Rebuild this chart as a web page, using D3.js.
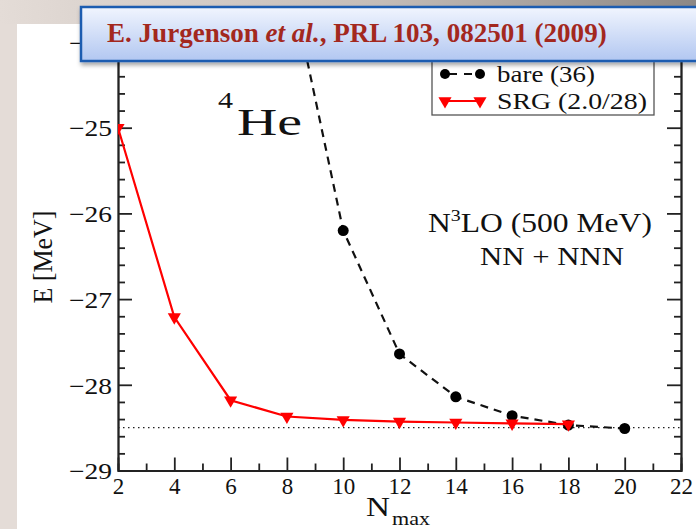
<!DOCTYPE html>
<meta charset="utf-8">
<style>
  body { margin: 0; background: #fff; }
  svg { display: block; font-family: "Liberation Serif", "DejaVu Serif", serif; }
  .axis path, .axis line { stroke: #222; stroke-width: 1.8px; }
</style>
<svg width="696" height="529"></svg>
<script src="https://d3js.org/d3.v7.min.js"></script>
<script>

// N_max values and ground state energies (MeV)
var bareN = [8, 10, 12, 14, 16, 18, 20],
    bareE = [-23.1, -26.20, -27.64, -28.14, -28.36, -28.47, -28.51];
var srgN = [2, 4, 6, 8, 10, 12, 14, 16, 18],
    srgE = [-25.0, -27.21, -28.18, -28.37, -28.41, -28.43, -28.44, -28.45, -28.46];
var exactE = -28.5;

var xTicks = [2, 4, 6, 8, 10, 12, 14, 16, 18, 20, 22],
    xLabels = ["2", "4", "6", "8", "10", "12", "14", "16", "18", "20", "22"];
var yTicks = [-29, -28, -27, -26, -25, -24],
    yLabels = ["\u221229", "\u221228", "\u221227", "\u221226", "\u221225", "\u221224"];

var serif = "'Liberation Serif', 'DejaVu Serif', serif";
var svg = d3.select("svg");

var defs = svg.append("defs");
var tg = defs.append("linearGradient").attr("id", "topg");
tg.append("stop").attr("offset", "0%").attr("stop-color", "#e4dcd7");
tg.append("stop").attr("offset", "55%").attr("stop-color", "#c4bcb7");
tg.append("stop").attr("offset", "100%").attr("stop-color", "#8d8885");
var bg = defs.append("linearGradient").attr("id", "bang")
    .attr("x1", 0).attr("y1", 0).attr("x2", 0).attr("y2", 1);
bg.append("stop").attr("offset", "0%").attr("stop-color", "#f1f5fe");
bg.append("stop").attr("offset", "100%").attr("stop-color", "#b2c7f1");
var sh = defs.append("filter").attr("id", "shadow")
    .attr("x", "-5%").attr("y", "-20%").attr("width", "110%").attr("height", "160%");
sh.append("feDropShadow").attr("dx", 1).attr("dy", 3).attr("stdDeviation", 2)
    .attr("flood-color", "#000").attr("flood-opacity", 0.35);

// slide background
svg.append("rect").attr("width", 696).attr("height", 529).attr("fill", "#fff");
svg.append("rect").attr("width", 17).attr("height", 529).attr("fill", "#e4dcd7");
svg.append("rect").attr("width", 696).attr("height", 24).attr("fill", "url(#topg)");

var x = d3.scaleLinear().domain([2, 22]).range([118, 681]);
var y = d3.scaleLinear().domain([-29, -24]).range([470.5, 42]);

defs.append("clipPath").attr("id", "clip").append("rect")
    .attr("x", 118).attr("y", 42).attr("width", 563).attr("height", 428.5);

function fit(t, w) {
    var n = t.node().getComputedTextLength();
    return w / n;
}

// minor ticks
var xMinor = d3.range(3, 22, 2),
    yMinor = d3.range(-29, -24.01, 0.2).filter(function (d) { return Math.abs(d - Math.round(d)) > 0.01; });

svg.append("g").attr("class", "axis").attr("transform", "translate(0," + y(-29) + ")")
    .call(d3.axisBottom(x).tickValues(xMinor).tickSize(-7).tickFormat(""));
svg.append("g").attr("class", "axis").attr("transform", "translate(0," + y(-24) + ")")
    .call(d3.axisTop(x).tickValues(xMinor).tickSize(-7).tickFormat(""));
svg.append("g").attr("class", "axis").attr("transform", "translate(" + x(2) + ",0)")
    .call(d3.axisLeft(y).tickValues(yMinor).tickSize(-7).tickFormat(""));
svg.append("g").attr("class", "axis").attr("transform", "translate(" + x(22) + ",0)")
    .call(d3.axisRight(y).tickValues(yMinor).tickSize(-7).tickFormat(""));

// major ticks
var xAxis = svg.append("g").attr("class", "axis").attr("transform", "translate(0," + y(-29) + ")")
    .call(d3.axisBottom(x).tickValues(xTicks).tickSize(-13).tickSizeOuter(0).tickPadding(7)
        .tickFormat(function (d, i) { return xLabels[i]; }));
xAxis.attr("font-family", serif).selectAll("text")
    .style("font-family", serif).style("font-size", "23px").attr("fill", "#111");
svg.append("g").attr("class", "axis").attr("transform", "translate(0," + y(-24) + ")")
    .call(d3.axisTop(x).tickValues(xTicks).tickSize(-13).tickSizeOuter(0).tickFormat(""));
var yAxis = svg.append("g").attr("class", "axis").attr("transform", "translate(" + x(2) + ",0)")
    .call(d3.axisLeft(y).tickValues(yTicks).tickSize(-14).tickSizeOuter(0).tickPadding(6)
        .tickFormat(function (d, i) { return yLabels[i]; }));
yAxis.attr("font-family", serif).selectAll("text")
    .style("font-family", serif).style("font-size", "23px").attr("fill", "#111").attr("dy", "0.36em")
    .attr("textLength", 43).attr("lengthAdjust", "spacingAndGlyphs");
svg.append("g").attr("class", "axis").attr("transform", "translate(" + x(22) + ",0)")
    .call(d3.axisRight(y).tickValues(yTicks).tickSize(-14).tickSizeOuter(0).tickFormat(""));

// exact result
svg.append("line")
    .attr("x1", x(2)).attr("x2", x(22)).attr("y1", y(exactE)).attr("y2", y(exactE))
    .attr("stroke", "#222").attr("stroke-width", 1.3).attr("stroke-dasharray", "1.5,3.5");

var plot = svg.append("g").attr("clip-path", "url(#clip)");

var bare = bareN.map(function (d, i) { return [d, bareE[i]]; }),
    srg = srgN.map(function (d, i) { return [d, srgE[i]]; });

var line = d3.line().x(function (d) { return x(d[0]); }).y(function (d) { return y(d[1]); });

plot.append("path").datum(bare).attr("d", line)
    .attr("fill", "none").attr("stroke", "#111").attr("stroke-width", 2.2)
    .attr("stroke-dasharray", "8,6");
plot.selectAll(".dot").data(bare).enter().append("circle")
    .attr("cx", function (d) { return x(d[0]); }).attr("cy", function (d) { return y(d[1]); })
    .attr("r", 5.5).attr("fill", "#000");

plot.append("path").datum(srg).attr("d", line)
    .attr("fill", "none").attr("stroke", "#ff0000").attr("stroke-width", 2.2);
var tri = d3.symbol().type(d3.symbolTriangle).size(75);
plot.selectAll(".tri").data(srg).enter().append("path")
    .attr("d", tri)
    .attr("transform", function (d) { return "translate(" + x(d[0]) + "," + y(d[1]) + ") rotate(180)"; })
    .attr("fill", "#ff0000");

// axis titles
var yt = svg.append("text").text("E [MeV]").style("font-size", "28px").attr("fill", "#111")
    .attr("text-anchor", "middle");
yt.attr("transform", "translate(52,257) rotate(-90) scale(" + fit(yt, 93) + ",1)");

var xn = svg.append("text").text("N").style("font-size", "28px").attr("fill", "#111");
xn.attr("transform", "translate(366,516) scale(" + fit(xn, 24) + ",1)");
var xm = svg.append("text").text("max").style("font-size", "19px").attr("fill", "#111");
xm.attr("transform", "translate(392,525) scale(" + fit(xm, 38) + ",1)");

// annotations
var a4 = svg.append("text").text("4").style("font-size", "24px").attr("fill", "#111");
a4.attr("transform", "translate(218,108) scale(" + fit(a4, 15) + ",1)");
var he = svg.append("text").text("He").style("font-size", "38px").attr("fill", "#111");
he.attr("transform", "translate(237,135) scale(" + fit(he, 65) + ",1)");

var n3 = svg.append("text").style("font-size", "27px").attr("fill", "#111");
n3.append("tspan").text("N");
n3.append("tspan").text("3").style("font-size", "17px").attr("dy", -11);
n3.append("tspan").text("LO (500 MeV)").attr("dy", 11);
n3.attr("transform", "translate(428,232) scale(" + fit(n3, 224) + ",1)");

var nn = svg.append("text").text("NN + NNN").style("font-size", "26px").attr("fill", "#111");
nn.attr("transform", "translate(480,265) scale(" + fit(nn, 144) + ",1)");

// legend
var lg = svg.append("g");
lg.append("rect").attr("x", 432).attr("y", 48).attr("width", 222).attr("height", 67)
    .attr("fill", "#fff").attr("stroke", "#555").attr("stroke-width", 1.3);
lg.append("line").attr("x1", 445).attr("x2", 480).attr("y1", 74).attr("y2", 74)
    .attr("stroke", "#111").attr("stroke-width", 2).attr("stroke-dasharray", "8,7").attr("stroke-dashoffset", -4);
[445, 480].forEach(function (cx) {
    lg.append("circle").attr("cx", cx).attr("cy", 74).attr("r", 5).attr("fill", "#000");
    lg.append("path").attr("d", tri).attr("transform", "translate(" + cx + ",101) rotate(180)").attr("fill", "#ff0000");
});
lg.append("line").attr("x1", 445).attr("x2", 480).attr("y1", 101).attr("y2", 101)
    .attr("stroke", "#ff0000").attr("stroke-width", 2);
var l1 = lg.append("text").text("bare (36)").style("font-size", "23px").attr("fill", "#111");
l1.attr("transform", "translate(497,82) scale(" + fit(l1, 98) + ",1)");
var l2 = lg.append("text").text("SRG (2.0/28)").style("font-size", "23px").attr("fill", "#111");
l2.attr("transform", "translate(497,109) scale(" + fit(l2, 150) + ",1)");

// citation banner
svg.append("rect").attr("x", 81).attr("y", 7).attr("width", 630).attr("height", 54)
    .attr("fill", "url(#bang)").attr("stroke", "#1f5cb0").attr("stroke-width", 2.5)
    .attr("filter", "url(#shadow)");
var cite = svg.append("text").style("font-size", "27px").style("font-weight", "bold").attr("fill", "#a3281e");
cite.append("tspan").text("E. Jurgenson ");
cite.append("tspan").text("et al.").style("font-style", "italic");
cite.append("tspan").text(", PRL 103, 082501 (2009)");
cite.attr("transform", "translate(107,42) scale(" + fit(cite, 500) + ",1)");

</script>
